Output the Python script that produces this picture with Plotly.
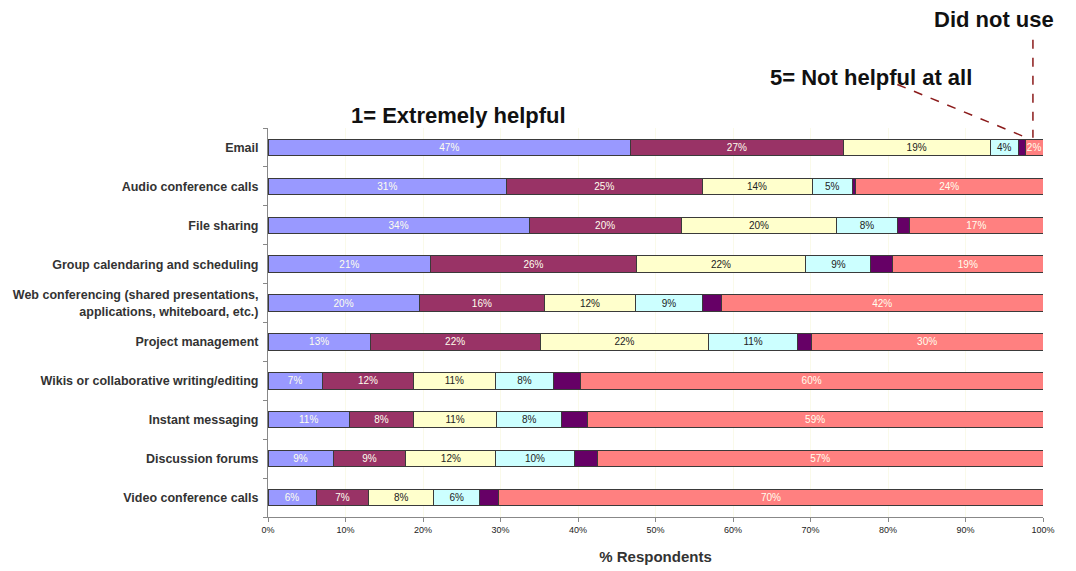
import plotly.graph_objects as go

categories = [
    "Email",
    "Audio conference calls",
    "File sharing",
    "Group calendaring and scheduling",
    "Web conferencing (shared presentations,<br>applications, whiteboard, etc.)",
    "Project management",
    "Wikis or collaborative writing/editing",
    "Instant messaging",
    "Discussion forums",
    "Video conference calls",
]

series_names = ["1= Extremely helpful", "2", "3", "4", "5= Not helpful at all", "Did not use"]
s1 = [46.8, 30.8, 33.7, 21.0, 19.5, 13.2, 7.0, 10.5, 8.4, 6.2]
s2 = [27.4, 25.2, 19.6, 26.5, 16.2, 21.9, 11.8, 8.3, 9.4, 6.8]
s3 = [19.0, 14.2, 20.1, 21.9, 11.7, 21.8, 10.5, 10.7, 11.6, 8.4]
s4 = [3.6, 5.2, 7.8, 8.4, 8.7, 11.4, 7.6, 8.4, 10.1, 5.9]
s5 = [0.9, 0.4, 1.6, 2.8, 2.4, 1.8, 3.4, 3.3, 3.0, 2.5]
s6 = [2.3, 24.2, 17.2, 19.4, 41.5, 29.9, 59.7, 58.8, 57.5, 70.2]
labels1 = ["47%", "31%", "34%", "21%", "20%", "13%", "7%", "11%", "9%", "6%"]
labels2 = ["27%", "25%", "20%", "26%", "16%", "22%", "12%", "8%", "9%", "7%"]
labels3 = ["19%", "14%", "20%", "22%", "12%", "22%", "11%", "11%", "12%", "8%"]
labels4 = ["4%", "5%", "8%", "9%", "9%", "11%", "8%", "8%", "10%", "6%"]
labels5 = ["", "", "", "", "", "", "", "", "", ""]
labels6 = ["2%", "24%", "17%", "19%", "42%", "30%", "60%", "59%", "57%", "70%"]
x_ticks = [0, 10, 20, 30, 40, 50, 60, 70, 80, 90, 100]
x_tick_labels = ["0%", "10%", "20%", "30%", "40%", "50%", "60%", "70%", "80%", "90%", "100%"]

colors = ["#9999FF", "#993366", "#FFFFCC", "#CCFFFF", "#660066", "#FF8080"]
text_colors = ["#FFFFEE", "#FFFFEE", "#222222", "#222222", "#FFFFEE", "#FFFFEE"]
all_series = [s1, s2, s3, s4, s5, s6]
all_labels = [labels1, labels2, labels3, labels4, labels5, labels6]

fig = go.Figure()
for name, vals, labs, col, tcol in zip(series_names, all_series, all_labels, colors, text_colors):
    fig.add_trace(go.Bar(
        y=categories, x=vals, name=name, orientation="h",
        marker=dict(color=col, line=dict(color="#3a3a3a", width=1)),
        text=labs, textposition="inside", insidetextanchor="middle",
        textfont=dict(family="Liberation Sans, Arial", size=10, color=tcol),
        showlegend=False,
    ))

fig.update_layout(
    barmode="stack",
    bargap=0.58,
    width=1076, height=571,
    margin=dict(l=268, r=33, t=128, b=54),
    paper_bgcolor="white", plot_bgcolor="white",
    uniformtext=dict(minsize=10, mode="show"),
    font=dict(family="Liberation Sans, Arial", color="#222222"),
)
fig.update_xaxes(
    range=[0, 100], tickvals=x_ticks, ticktext=x_tick_labels,
    ticks="outside", ticklen=4, tickcolor="#888888",
    showline=True, linecolor="#888888", linewidth=1,
    showgrid=True, gridcolor="#FAFAEA", gridwidth=1, zeroline=False,
    tickfont=dict(size=9, color="#222222"),
    title=dict(text="<b>% Respondents</b>", font=dict(size=15, color="#333333"), standoff=17),
    automargin=False,
)
fig.update_yaxes(
    categoryorder="array", categoryarray=categories, autorange="reversed",
    ticks="outside", ticklen=4, tickcolor="#888888", tickson="boundaries",
    showline=True, linecolor="#888888", linewidth=1, showgrid=False,
    tickfont=dict(size=12.5, color="#333333", family="Liberation Sans, Arial"),
    ticklabelstandoff=6,
)

# bold labels
fig.update_yaxes(ticktext=["<b>" + c + "</b>" for c in categories], tickvals=categories)

fig.add_annotation(text="<b>1= Extremely helpful</b>", x=24.6, y=1.031, xref="x", yref="paper",
                   yanchor="middle", showarrow=False, font=dict(size=22, color="#111111"))
fig.add_annotation(text="<b>5= Not helpful at all</b>", x=77.8, y=1.131, xref="x", yref="paper",
                   yanchor="middle", showarrow=False, font=dict(size=22, color="#111111"))
fig.add_annotation(text="<b>Did not use</b>", x=93.7, y=1.278, xref="x", yref="paper",
                   yanchor="middle", showarrow=False, font=dict(size=22, color="#111111"))

fig.add_shape(type="line", xref="x", yref="paper", x0=98.7, x1=98.7, y0=1.227, y1=0.975,
              line=dict(color="#8B1A1A", width=1.5, dash="dash"))
fig.add_shape(type="line", xref="x", yref="paper", x0=81.2, x1=97.9, y0=1.112, y1=0.975,
              line=dict(color="#8B1A1A", width=1.5, dash="dash"))

fig.write_html("out.html")
